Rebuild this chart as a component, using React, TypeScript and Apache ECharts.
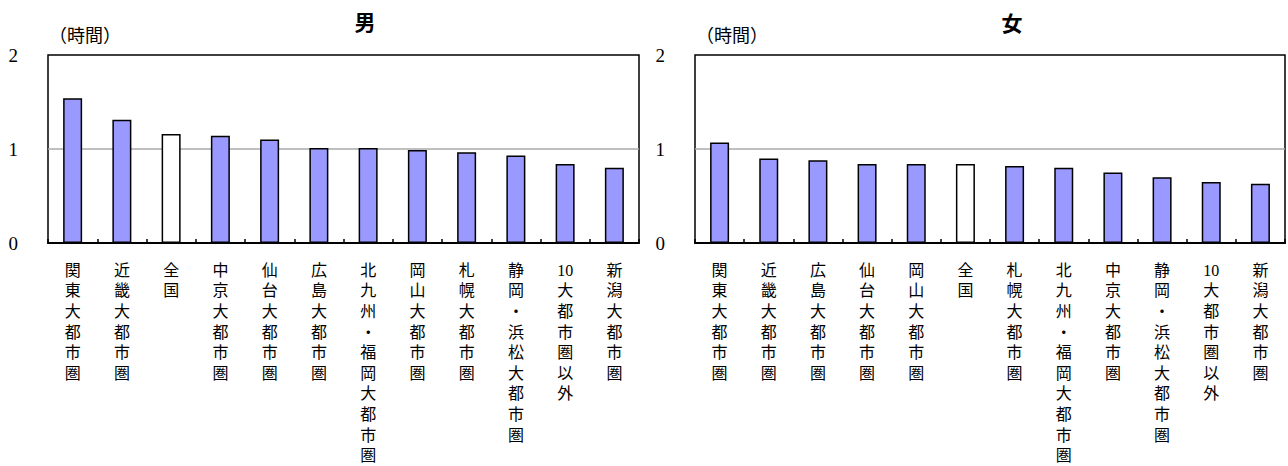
import React, { useEffect, useRef } from "react";
import * as echarts from "echarts";

const categoriesMale = [
  "関東大都市圏", "近畿大都市圏", "全国", "中京大都市圏", "仙台大都市圏", "広島大都市圏",
  "北九州・福岡大都市圏", "岡山大都市圏", "札幌大都市圏", "静岡・浜松大都市圏", "10大都市圏以外", "新潟大都市圏",
];
const valuesMale = [1.54, 1.31, 1.16, 1.14, 1.1, 1.01, 1.01, 0.99, 0.965, 0.93, 0.84, 0.8];

const categoriesFemale = [
  "関東大都市圏", "近畿大都市圏", "広島大都市圏", "仙台大都市圏", "岡山大都市圏", "全国",
  "札幌大都市圏", "北九州・福岡大都市圏", "中京大都市圏", "静岡・浜松大都市圏", "10大都市圏以外", "新潟大都市圏",
];
const valuesFemale = [1.07, 0.9, 0.88, 0.84, 0.84, 0.84, 0.82, 0.8, 0.75, 0.7, 0.65, 0.63];

const panelTitles = ["男", "女"];
const unitLabel = "（時間）";
const highlightCategory = "全国";
const yTicks = { min: 0, max: 2, interval: 1 };

const BAR_COLOR = "#9999FF";
const CJK = "'Noto Sans CJK JP'";
const LABEL_FONT = "'Liberation Serif', 'Noto Sans CJK JP'";

function verticalize(s: string): string {
  const parts = s.match(/\d+|./gu) || [];
  return parts.join("\n");
}

function buildData(cats: string[], vals: number[]) {
  return vals.map((v, i) => ({
    value: v,
    itemStyle: { color: cats[i] === highlightCategory ? "#ffffff" : BAR_COLOR },
  }));
}

export default function App() {
  const ref = useRef<HTMLDivElement>(null);
  useEffect(() => {
    if (!ref.current) return;
    const chart = echarts.init(ref.current, undefined, { renderer: "svg" });
    const grids = [
      { left: 48, top: 55, width: 591, height: 188 },
      { left: 695, top: 55, width: 590, height: 188 },
    ];
    const cats = [categoriesMale, categoriesFemale];
    const vals = [valuesMale, valuesFemale];
    const option: any = {
      animation: false,
      backgroundColor: "#ffffff",
      grid: grids.map((g) => ({
        ...g,
        show: true,
        borderColor: "#000",
        borderWidth: 1.5,
        backgroundColor: "transparent",
        containLabel: false,
      })),
      xAxis: cats.map((c, i) => ({
        type: "category",
        gridIndex: i,
        data: c,
        axisLine: { show: true, lineStyle: { color: "#000", width: 2 } },
        axisTick: { show: true, inside: true, length: 4, lineStyle: { color: "#000", width: 1.5 } },
        axisLabel: {
          interval: 0,
          margin: 17,
          color: "#000",
          fontFamily: LABEL_FONT,
          fontSize: 16,
          lineHeight: 20.6,
          verticalAlign: "top",
          formatter: (v: string) => verticalize(v),
        },
        splitLine: { show: false },
      })),
      yAxis: cats.map((_, i) => ({
        type: "value",
        gridIndex: i,
        min: yTicks.min,
        max: yTicks.max,
        interval: yTicks.interval,
        axisLine: { show: false },
        axisTick: { show: false },
        axisLabel: {
          margin: 30,
          color: "#000",
          fontFamily: "'Liberation Serif'",
          fontSize: 19,
          padding: [5, 0, 0, 0],
        },
        splitLine: {
          show: true,
          showMinLine: false,
          showMaxLine: false,
          lineStyle: { color: "#aaaaaa", width: 1.5 },
        },
      })),
      series: vals.map((v, i) => ({
        type: "bar",
        xAxisIndex: i,
        yAxisIndex: i,
        barWidth: 19,
        data: buildData(cats[i], v),
        itemStyle: { borderColor: "#000", borderWidth: 1.5 },
        z: 3,
      })),
      graphic: [
        {
          type: "text",
          x: 365,
          y: 21,
          style: {
            text: panelTitles[0],
            fill: "#000",
            font: `bold 21px ${CJK}`,
            textAlign: "center",
            textVerticalAlign: "middle",
          },
        },
        {
          type: "text",
          x: 1012,
          y: 22,
          style: {
            text: panelTitles[1],
            fill: "#000",
            font: `bold 21px ${CJK}`,
            textAlign: "center",
            textVerticalAlign: "middle",
          },
        },
        {
          type: "text",
          x: 85,
          y: 34,
          style: {
            text: unitLabel,
            fill: "#000",
            font: `18px ${CJK}`,
            textAlign: "center",
            textVerticalAlign: "middle",
          },
        },
        {
          type: "text",
          x: 732,
          y: 34,
          style: {
            text: unitLabel,
            fill: "#000",
            font: `18px ${CJK}`,
            textAlign: "center",
            textVerticalAlign: "middle",
          },
        },
      ],
    };
    chart.setOption(option);
    return () => chart.dispose();
  }, []);
  return (
    <div
      ref={ref}
      style={{ position: "absolute", left: 0, top: 0, width: 1288, height: 466 }}
    />
  );
}
